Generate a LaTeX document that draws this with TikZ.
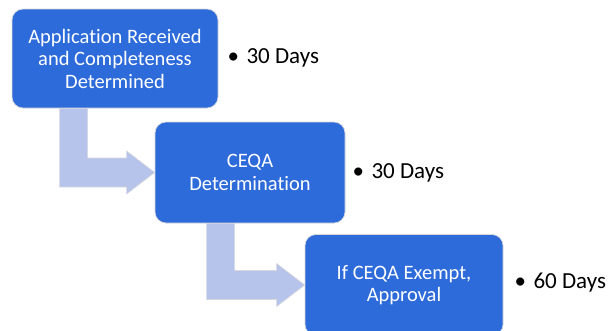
\documentclass[tikz,border=0pt]{standalone}
\usepackage{fontspec}
\setmainfont{Carlito}[Ligatures=NoCommon]
\usetikzlibrary{calc}
\definecolor{stepblue}{RGB}{45,107,218}
\definecolor{flowfill}{RGB}{182,196,236}
\definecolor{rimgray}{RGB}{215,215,220}
\tikzset{
  stepbox/.style={rectangle, rounded corners=11pt, fill=stepblue, draw=rimgray,
    line width=0.7pt, text=white, align=center, font=\fontsize{20.5}{22.5}\selectfont,
    inner sep=0pt},
  flowarrow/.style={fill=flowfill, draw=rimgray, line width=0.6pt},
  daylabel/.style={anchor=west, font=\fontsize{23}{26}\selectfont, text=black, inner sep=0pt}
}
% bent block arrow: from the bottom of #1 (offset #3 from its left edge) to the west side of #2
\newcommand\bentflow[3]{%
  \path[flowarrow] let \p1 = ($(#1.south west)+(#3,0)$), \p2 = (#2.west) in
    (\x1-14pt,\y1) -- (\x1+14pt,\y1) -- (\x1+14pt,\y2+14.5pt)
    -- (\x2-28pt,\y2+14.5pt) -- (\x2-28pt,\y2+21.5pt) -- (\x2,\y2)
    -- (\x2-28pt,\y2-21.5pt) -- (\x2-28pt,\y2-14.5pt)
    -- (\x1-14pt,\y2-14.5pt) -- cycle;}
\newcommand\daytext[1]{\makebox[19pt][l]{•}#1}
\begin{document}
\begin{tikzpicture}[x=1pt,y=-1pt]
  \useasboundingbox (0,0) rectangle (609,330);

  \node[stepbox, minimum width=206pt, minimum height=99pt] (b1) at (115,58.5)
    {Application Received\\and Completeness\\Determined};
  \node[stepbox, minimum width=190pt, minimum height=101pt] (b2) at (250,172.5)
    {CEQA\\Determination};
  \node[stepbox, minimum width=198pt, minimum height=101pt] (b3) at (404,285)
    {If CEQA Exempt,\\Approval};

  \bentflow{b1}{b2}{62pt}
  \bentflow{b2}{b3}{66pt}

  \node[daylabel] (d1) at ($(b1.east)+(9,-1)$) {\daytext{30 Days}};
  \node[daylabel] (d2) at ($(b2.east)+(7,0)$) {\daytext{30 Days}};
  \node[daylabel] (d3) at ($(b3.east)+(11,-2)$) {\daytext{60 Days}};
\end{tikzpicture}
\end{document}
